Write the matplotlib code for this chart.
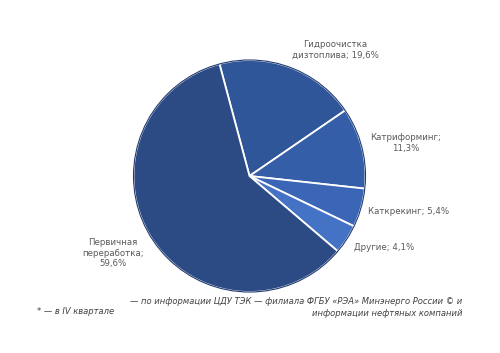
import matplotlib.pyplot as plt
from matplotlib.patches import Circle

labels = ["Гидроочистка\nдизтоплива; 19,6%", "Катриформинг;\n11,3%", "Каткрекинг; 5,4%",
          "Другие; 4,1%", "Первичная\nпереработка;\n59,6%"]
shares = [19.6, 11.3, 5.4, 4.1, 59.6]
colors = ["#30569a", "#355ea8", "#3b66b5", "#4472c4", "#2c4b84"]
# label positions in pixels (x, y from top)
label_pos = [(335, 50), (406, 143), (409, 211), (384, 247), (113, 253)]

W, H = 500, 353
fig = plt.figure(figsize=(5, 3.53), dpi=100)
ax = fig.add_axes([0, 0, 1, 1])
ax.set_xlim(0, W)
ax.set_ylim(0, H)
ax.set_aspect("equal")
ax.axis("off")

cx, cy, r = 249.5, H - 176, 116
ax.pie(shares, colors=colors, startangle=105, counterclock=False,
       center=(cx, cy), radius=r,
       wedgeprops=dict(edgecolor="white", linewidth=1.3))
ax.add_patch(Circle((cx, cy), r, fill=False, edgecolor="#1f3a70", linewidth=0.8))
ax.set_xlim(0, W)
ax.set_ylim(0, H)

for lab, (x, y) in zip(labels, label_pos):
    ax.text(x, H - y, lab, ha="center", va="center", fontsize=6.2,
            color="#595959", linespacing=1.25)

ax.text(37, H - 312, "* — в IV квартале", ha="left", va="center",
        fontsize=6, style="italic", color="#404040")
ax.text(462, H - 307.5,
        "— по информации ЦДУ ТЭК — филиала ФГБУ «РЭА» Минэнерго России © и\nинформации нефтяных компаний",
        ha="right", va="center", fontsize=6, style="italic", color="#404040",
        multialignment="right", linespacing=1.3)

fig.savefig("out.png", dpi=100)
